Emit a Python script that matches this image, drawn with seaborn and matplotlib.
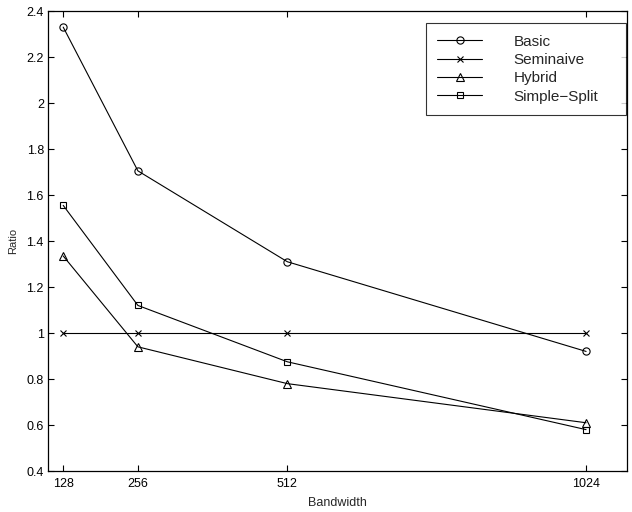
import matplotlib
matplotlib.use("Agg")
import matplotlib.pyplot as plt
import seaborn as sns
import pandas as pd
from matplotlib.ticker import FuncFormatter

bandwidth = [128, 256, 512, 1024]
basic = [2.33, 1.705, 1.31, 0.92]
seminaive = [1.0, 1.0, 1.0, 1.0]
hybrid = [1.335, 0.94, 0.78, 0.61]
simple_split = [1.555, 1.12, 0.875, 0.58]
series_names = ["Basic", "Seminaive", "Hybrid", "Simple\u2212Split"]
yticks = [0.4, 0.6, 0.8, 1.0, 1.2, 1.4, 1.6, 1.8, 2.0, 2.2, 2.4]

sns.set_style("ticks")
plt.rcParams["font.family"] = ["Liberation Sans", "DejaVu Sans"]

fig = plt.figure(figsize=(6.32, 5.12), dpi=100)
ax = fig.add_axes([0.076, 0.080, 0.916, 0.8985])

markers = ["o", "x", "^", "s"]
msizes = [5.2, 4.0, 6.0, 4.6]
for name, vals, m, ms in zip(series_names, [basic, seminaive, hybrid, simple_split], markers, msizes):
    d = pd.DataFrame({"Bandwidth": bandwidth, "Ratio": vals})
    sns.lineplot(data=d, x="Bandwidth", y="Ratio", marker=m, color="black", linewidth=0.8,
                 markersize=ms, markerfacecolor="none", markeredgecolor="black",
                 markeredgewidth=0.8, ax=ax, label=name, legend=False)

ax.set_xlim(102, 1094)
ax.set_ylim(0.4, 2.4)
ax.set_xticks(bandwidth)
ax.set_xticklabels([str(b) for b in bandwidth])
ax.set_yticks(yticks)
ax.yaxis.set_major_formatter(FuncFormatter(lambda v, p: "%g" % v))
ax.tick_params(direction="in", length=4, width=0.8, top=True, right=True, labelsize=9, colors="black")
ax.tick_params(axis="y", pad=3)
ax.tick_params(axis="x", pad=5)
for s in ax.spines.values():
    s.set_visible(True)
    s.set_linewidth(0.9)
    s.set_color("black")
ax.set_xlabel("Bandwidth", fontsize=9, labelpad=5)
ax.set_ylabel("Ratio", fontsize=8, labelpad=6)

leg = ax.legend(loc="upper left", bbox_to_anchor=(0.6528, 0.776, 0.3454, 0.1978), mode="expand",
                fontsize=11, frameon=True, fancybox=False, edgecolor="black",
                handlelength=2.95, handletextpad=2.03, labelspacing=0.29, borderpad=0.75,
                borderaxespad=0.0, numpoints=1, markerscale=1.0)
leg.get_frame().set_linewidth(0.8)

fig.savefig("out.png", dpi=100)
